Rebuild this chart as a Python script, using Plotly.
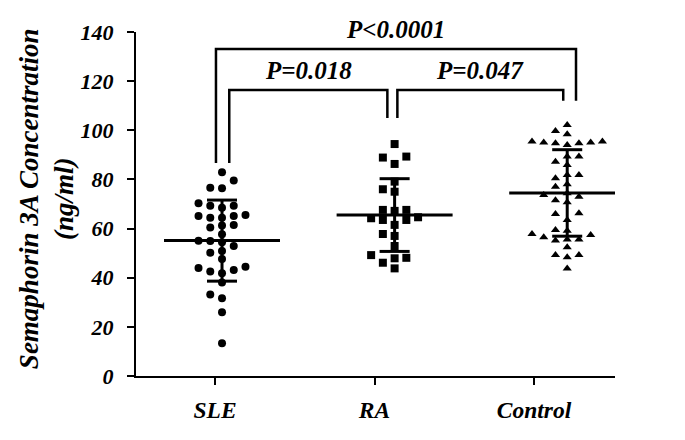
import plotly.graph_objects as go

# values (ng/ml)
groups = ["SLE", "RA", "Control"]
sle = [82.9, 79.6, 76.6, 76.4, 69.3, 68.5, 69.3, 70.3, 65.1, 64.4, 64.4, 65.1,
       65.5, 61.2, 61.5, 60.4, 57.7, 54.4, 55.0, 54.9, 50.9, 50.2, 52.9, 47.6,
       44.5, 41.8, 43.1, 44.0, 42.5, 38.1, 33.2, 31.6, 25.9, 13.3]
ra = [94.4, 89.3, 88.9, 86.3, 79.1, 76.0, 75.0, 64.2, 67.6, 63.5, 67.2, 67.6,
      63.5, 64.6, 61.5, 57.0, 57.8, 52.9, 47.9, 49.2, 46.1, 48.1, 43.8]
control = [102.2, 99.7, 98.4, 95.4, 95.0, 94.7, 94.0, 94.7, 95.0, 95.4, 89.3,
           85.9, 89.3, 87.2, 81.8, 81.8, 80.5, 78.0, 77.0, 73.7, 73.0, 74.4,
           70.7, 71.5, 65.9, 66.2, 63.5, 59.1, 57.4, 55.6, 55.1, 55.6, 56.5,
           57.8, 59.4, 52.4, 49.2, 49.2, 48.3, 43.8]
means = [55.1, 65.5, 74.5]
sds = [16.5, 14.8, 17.6]
p_labels = ["P=0.018", "P=0.047", "P<0.0001"]

FONT = "Liberation Serif"
symbols = ["circle", "square", "triangle-up"]
YMAX = 140
PLOT_W = 479


def swarm(values, step=0.068, gap=3.2):
    # simple beeswarm: spread points that sit too close in value
    order = sorted(range(len(values)), key=lambda i: values[i])
    used = {}
    out = [0.0] * len(values)
    for i in order:
        v = values[i]
        for k in [0, -1, 1, -2, 2, -3, 3, -4, 4, -5, 5]:
            if all(abs(v - u) >= gap for u in used.get(k, [])):
                break
        used.setdefault(k, []).append(v)
        out[i] = k * step
    return out


fig = go.Figure()

for gi, vals in enumerate([sle, ra, control]):
    offs = swarm(vals)
    fig.add_trace(go.Scatter(
        x=[gi + o for o in offs], y=vals, mode="markers",
        marker=dict(symbol=symbols[gi], size=8, color="black", line=dict(width=0)),
        showlegend=False, hoverinfo="y"))

    m, s = means[gi], sds[gi]
    w, c = 0.336, 0.087
    fig.add_trace(go.Scatter(
        x=[gi - w, gi + w, None, gi, gi, None, gi - c, gi + c, None, gi - c, gi + c],
        y=[m, m, None, m - s, m + s, None, m + s, m + s, None, m - s, m - s],
        mode="lines", line=dict(color="black", width=3),
        showlegend=False, hoverinfo="skip"))

# invisible trace so the category axis gets drawn
fig.add_trace(go.Scatter(x=[0, 1, 2], y=[-10, -10, -10], xaxis="x2", mode="markers",
                         marker=dict(opacity=0), showlegend=False, hoverinfo="skip"))

# significance brackets: (left x, right x, top, left foot, right foot)
brackets = [
    (0 + 0.042, 1 - 0.042, 116.4, 86.7, 105.0),
    (1 + 0.016, 2 - 0.023, 116.4, 105.0, 112.0),
    (0 - 0.035, 2 + 0.051, 133.1, 86.7, 112.0),
]
for (x0, x1, top, f0, f1), lab in zip(brackets, p_labels):
    fig.add_shape(type="path", xref="x", yref="y",
                  path=f"M {x0},{f0} L {x0},{top} L {x1},{top} L {x1},{f1}",
                  line=dict(color="black", width=2.5))
    fig.add_annotation(x=(x0 + x1) / 2, y=(top + 8.0) / YMAX, xref="x", yref="paper",
                       yanchor="middle", text=lab, showarrow=False,
                       font=dict(family=FONT, size=25, color="black",
                                 weight="bold", style="italic"))

# x axis line runs a little past the y axis on the left
fig.add_shape(type="line", xref="paper", yref="paper", x0=-9 / PLOT_W, x1=0, y0=0, y1=0,
              line=dict(color="black", width=2))

fig.add_annotation(x=-0.2586, y=0.516, xref="paper", yref="paper",
                   text="Semaphorin 3A Concentration<br>(ng/ml)",
                   textangle=-90, showarrow=False,
                   font=dict(family=FONT, size=27, color="black",
                             weight="bold", style="italic"))

yfont = dict(family=FONT, size=22, color="black", weight="bold", style="italic")
xfont = dict(family=FONT, size=23.5, color="black", weight="bold", style="italic")

fig.update_layout(
    width=677, height=432, autosize=False,
    margin=dict(l=128, r=70, t=24, b=64),
    plot_bgcolor="white", paper_bgcolor="white",
    xaxis=dict(range=[-0.4983, 2.2769], visible=False),
    xaxis2=dict(range=[-0.4953, 2.5078], overlaying="x", anchor="y", side="bottom",
                tickvals=[0, 1, 2], ticktext=groups, showline=True,
                linecolor="black", linewidth=2, ticks="outside", ticklen=7,
                tickwidth=2, tickcolor="black", showgrid=False, zeroline=False,
                ticklabelstandoff=5, tickfont=xfont),
    yaxis=dict(range=[0, YMAX], tickvals=list(range(0, 141, 20)), showline=True,
               linecolor="black", linewidth=2, ticks="outside", ticklen=7,
               tickwidth=2, tickcolor="black", showgrid=False, zeroline=False,
               ticklabelstandoff=9, tickfont=yfont),
)

fig.write_html("out.html")
